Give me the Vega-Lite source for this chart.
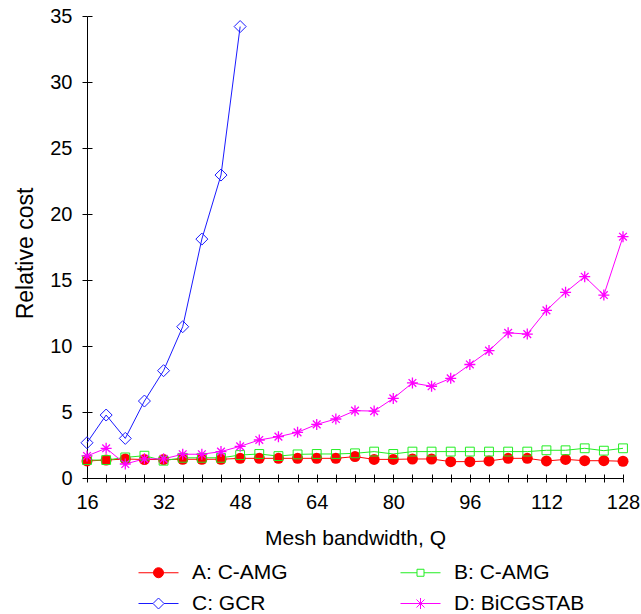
{
  "$schema": "https://vega.github.io/schema/vega-lite/v6.json",
  "width": 536,
  "height": 462,
  "autosize": "none",
  "padding": {"left": 87, "top": 16, "right": 18, "bottom": 136},
  "config": {
    "view": {"stroke": null},
    "font": "Liberation Sans",
    "axis": {"grid": false, "domainColor": "black", "tickColor": "black", "labelColor": "black", "titleColor": "black", "titleFontWeight": "normal", "labelFlush": false, "labelOverlap": false, "domainWidth": 1, "tickWidth": 1}
  },
  "data": {"values": [
    {"series": "A: C-AMG", "q": 16, "cost": 1.29}, {"series": "A: C-AMG", "q": 20, "cost": 1.36}, {"series": "A: C-AMG", "q": 24, "cost": 1.44}, {"series": "A: C-AMG", "q": 28, "cost": 1.40}, {"series": "A: C-AMG", "q": 32, "cost": 1.40}, {"series": "A: C-AMG", "q": 36, "cost": 1.42}, {"series": "A: C-AMG", "q": 40, "cost": 1.42}, {"series": "A: C-AMG", "q": 44, "cost": 1.42}, {"series": "A: C-AMG", "q": 48, "cost": 1.49}, {"series": "A: C-AMG", "q": 52, "cost": 1.49}, {"series": "A: C-AMG", "q": 56, "cost": 1.49}, {"series": "A: C-AMG", "q": 60, "cost": 1.49}, {"series": "A: C-AMG", "q": 64, "cost": 1.49}, {"series": "A: C-AMG", "q": 68, "cost": 1.49}, {"series": "A: C-AMG", "q": 72, "cost": 1.62}, {"series": "A: C-AMG", "q": 76, "cost": 1.41}, {"series": "A: C-AMG", "q": 80, "cost": 1.41}, {"series": "A: C-AMG", "q": 84, "cost": 1.44}, {"series": "A: C-AMG", "q": 88, "cost": 1.44}, {"series": "A: C-AMG", "q": 92, "cost": 1.24}, {"series": "A: C-AMG", "q": 96, "cost": 1.24}, {"series": "A: C-AMG", "q": 100, "cost": 1.29}, {"series": "A: C-AMG", "q": 104, "cost": 1.49}, {"series": "A: C-AMG", "q": 108, "cost": 1.49}, {"series": "A: C-AMG", "q": 112, "cost": 1.29}, {"series": "A: C-AMG", "q": 116, "cost": 1.41}, {"series": "A: C-AMG", "q": 120, "cost": 1.31}, {"series": "A: C-AMG", "q": 124, "cost": 1.31}, {"series": "A: C-AMG", "q": 128, "cost": 1.27},
    {"series": "B: C-AMG", "q": 16, "cost": 1.36}, {"series": "B: C-AMG", "q": 20, "cost": 1.36}, {"series": "B: C-AMG", "q": 24, "cost": 1.56}, {"series": "B: C-AMG", "q": 28, "cost": 1.69}, {"series": "B: C-AMG", "q": 32, "cost": 1.31}, {"series": "B: C-AMG", "q": 36, "cost": 1.53}, {"series": "B: C-AMG", "q": 40, "cost": 1.53}, {"series": "B: C-AMG", "q": 44, "cost": 1.53}, {"series": "B: C-AMG", "q": 48, "cost": 1.74}, {"series": "B: C-AMG", "q": 52, "cost": 1.82}, {"series": "B: C-AMG", "q": 56, "cost": 1.66}, {"series": "B: C-AMG", "q": 60, "cost": 1.79}, {"series": "B: C-AMG", "q": 64, "cost": 1.82}, {"series": "B: C-AMG", "q": 68, "cost": 1.82}, {"series": "B: C-AMG", "q": 72, "cost": 1.87}, {"series": "B: C-AMG", "q": 76, "cost": 2.0}, {"series": "B: C-AMG", "q": 80, "cost": 1.82}, {"series": "B: C-AMG", "q": 84, "cost": 2.0}, {"series": "B: C-AMG", "q": 88, "cost": 2.0}, {"series": "B: C-AMG", "q": 92, "cost": 2.0}, {"series": "B: C-AMG", "q": 96, "cost": 2.0}, {"series": "B: C-AMG", "q": 100, "cost": 2.0}, {"series": "B: C-AMG", "q": 104, "cost": 2.0}, {"series": "B: C-AMG", "q": 108, "cost": 2.0}, {"series": "B: C-AMG", "q": 112, "cost": 2.1}, {"series": "B: C-AMG", "q": 116, "cost": 2.1}, {"series": "B: C-AMG", "q": 120, "cost": 2.25}, {"series": "B: C-AMG", "q": 124, "cost": 2.07}, {"series": "B: C-AMG", "q": 128, "cost": 2.25},
    {"series": "C: GCR", "q": 16, "cost": 2.67}, {"series": "C: GCR", "q": 20, "cost": 4.77}, {"series": "C: GCR", "q": 24, "cost": 3.0}, {"series": "C: GCR", "q": 28, "cost": 5.83}, {"series": "C: GCR", "q": 32, "cost": 8.13}, {"series": "C: GCR", "q": 36, "cost": 11.46}, {"series": "C: GCR", "q": 40, "cost": 18.1}, {"series": "C: GCR", "q": 44, "cost": 22.95}, {"series": "C: GCR", "q": 48, "cost": 34.2},
    {"series": "D: BiCGSTAB", "q": 16, "cost": 1.67}, {"series": "D: BiCGSTAB", "q": 20, "cost": 2.25}, {"series": "D: BiCGSTAB", "q": 24, "cost": 1.06}, {"series": "D: BiCGSTAB", "q": 28, "cost": 1.45}, {"series": "D: BiCGSTAB", "q": 32, "cost": 1.45}, {"series": "D: BiCGSTAB", "q": 36, "cost": 1.8}, {"series": "D: BiCGSTAB", "q": 40, "cost": 1.8}, {"series": "D: BiCGSTAB", "q": 44, "cost": 2.0}, {"series": "D: BiCGSTAB", "q": 48, "cost": 2.4}, {"series": "D: BiCGSTAB", "q": 52, "cost": 2.88}, {"series": "D: BiCGSTAB", "q": 56, "cost": 3.13}, {"series": "D: BiCGSTAB", "q": 60, "cost": 3.46}, {"series": "D: BiCGSTAB", "q": 64, "cost": 4.06}, {"series": "D: BiCGSTAB", "q": 68, "cost": 4.47}, {"series": "D: BiCGSTAB", "q": 72, "cost": 5.1}, {"series": "D: BiCGSTAB", "q": 76, "cost": 5.07}, {"series": "D: BiCGSTAB", "q": 80, "cost": 6.03}, {"series": "D: BiCGSTAB", "q": 84, "cost": 7.2}, {"series": "D: BiCGSTAB", "q": 88, "cost": 6.95}, {"series": "D: BiCGSTAB", "q": 92, "cost": 7.55}, {"series": "D: BiCGSTAB", "q": 96, "cost": 8.6}, {"series": "D: BiCGSTAB", "q": 100, "cost": 9.65}, {"series": "D: BiCGSTAB", "q": 104, "cost": 11.0}, {"series": "D: BiCGSTAB", "q": 108, "cost": 10.9}, {"series": "D: BiCGSTAB", "q": 112, "cost": 12.7}, {"series": "D: BiCGSTAB", "q": 116, "cost": 14.07}, {"series": "D: BiCGSTAB", "q": 120, "cost": 15.25}, {"series": "D: BiCGSTAB", "q": 124, "cost": 13.86}, {"series": "D: BiCGSTAB", "q": 128, "cost": 18.28}
  ]},
  "layer": [
    {
      "mark": {"type": "line", "strokeWidth": 1},
      "encoding": {
        "x": {"field": "q", "type": "quantitative", "scale": {"domain": [16, 128], "nice": false, "zero": false},
          "axis": {"orient": "bottom", "values": [16, 20, 24, 28, 32, 36, 40, 44, 48, 52, 56, 60, 64, 68, 72, 76, 80, 84, 88, 92, 96, 100, 104, 108, 112, 116, 120, 124, 128],
            "labelExpr": "datum.value % 16 === 0 ? datum.label : ''", "tickSize": 4, "labelPadding": 10, "labelFontSize": 20,
            "title": "Mesh bandwidth, Q", "titleFontSize": 21, "titleBaseline": "alphabetic", "titleY": 66}},
        "y": {"field": "cost", "type": "quantitative", "scale": {"domain": [0, 35], "nice": false},
          "axis": {"orient": "left", "values": [0, 5, 10, 15, 20, 25, 30, 35], "tickSize": 5, "labelPadding": 10, "labelFontSize": 20,
            "title": "Relative cost", "titleFontSize": 23, "titleBaseline": "alphabetic", "titleX": -55, "titleY": 237, "titleAngle": -90}},
        "color": {"field": "series", "type": "nominal",
          "scale": {"domain": ["A: C-AMG", "B: C-AMG", "C: GCR", "D: BiCGSTAB"], "range": ["#ff0000", "#22ee22", "#1a1aff", "#ff00ff"]},
          "legend": {"orient": "none", "direction": "horizontal", "legendX": 61, "legendY": 546, "columns": 2, "columnPadding": 110, "rowPadding": 9, "title": null,
            "labelFontSize": 21, "labelColor": "black", "symbolSize": 400, "labelOffset": 23, "symbolStrokeWidth": 1, "padding": 0,
            "encode": {"symbols": {"update": {
              "shape": {"signal": "datum.value === 'A: C-AMG' ? 'M-2,0L2,0M-0.5,0A0.5,0.5,0,1,1,0.5,0A0.5,0.5,0,1,1,-0.5,0Z' : datum.value === 'B: C-AMG' ? 'M-2,0L-0.35,0M0.35,0L2,0M-0.35,-0.35L0.35,-0.35L0.35,0.35L-0.35,0.35Z' : datum.value === 'C: GCR' ? 'M-2,0L-0.55,0M0.55,0L2,0M0,-0.55L0.55,0L0,0.55L-0.55,0Z' : 'M-2,0L2,0M0,-0.55L0,0.55M-0.4,-0.4L0.4,0.4M-0.4,0.4L0.4,-0.4'"},
              "fill": {"signal": "datum.value === 'A: C-AMG' ? '#ff0000' : 'transparent'"},
              "size": {"value": 400},
              "strokeWidth": {"value": 1}
            }}}}
        }
      }
    },
    {
      "transform": [{"filter": "datum.series === 'A: C-AMG'"}],
      "mark": {"type": "point", "shape": "circle", "filled": true, "color": "#ff0000", "size": 121, "opacity": 1},
      "encoding": {
        "x": {"field": "q", "type": "quantitative",
          "axis": {"orient": "bottom", "values": [16, 20, 24, 28, 32, 36, 40, 44, 48, 52, 56, 60, 64, 68, 72, 76, 80, 84, 88, 92, 96, 100, 104, 108, 112, 116, 120, 124, 128],
            "offset": -4, "tickSize": 4, "labels": false, "domain": false, "title": null}},
        "y": {"field": "cost", "type": "quantitative",
          "axis": {"orient": "left", "values": [0, 5, 10, 15, 20, 25, 30, 35], "offset": -5, "tickSize": 5, "labels": false, "domain": false, "title": null}}
      }
    },
    {
      "transform": [{"filter": "datum.series === 'B: C-AMG'"}],
      "mark": {"type": "point", "shape": "square", "filled": false, "color": "#22ee22", "size": 78, "strokeWidth": 1, "opacity": 1},
      "encoding": {
        "x": {"field": "q", "type": "quantitative", "axis": null},
        "y": {"field": "cost", "type": "quantitative", "axis": null}
      }
    },
    {
      "transform": [{"filter": "datum.series === 'C: GCR'"}],
      "mark": {"type": "point", "shape": "diamond", "filled": false, "color": "#1a1aff", "size": 144, "strokeWidth": 1, "opacity": 1},
      "encoding": {
        "x": {"field": "q", "type": "quantitative", "axis": null},
        "y": {"field": "cost", "type": "quantitative", "axis": null}
      }
    },
    {
      "transform": [{"filter": "datum.series === 'D: BiCGSTAB'"}],
      "mark": {"type": "point", "shape": "M-1,0L1,0M0,-1L0,1M-0.7,-0.7L0.7,0.7M-0.7,0.7L0.7,-0.7", "filled": false, "color": "#ff00ff", "size": 121, "strokeWidth": 1.3, "opacity": 1},
      "encoding": {
        "x": {"field": "q", "type": "quantitative", "axis": null},
        "y": {"field": "cost", "type": "quantitative", "axis": null}
      }
    }
  ],
  "resolve": {"axis": {"x": "independent", "y": "independent"}}
}
